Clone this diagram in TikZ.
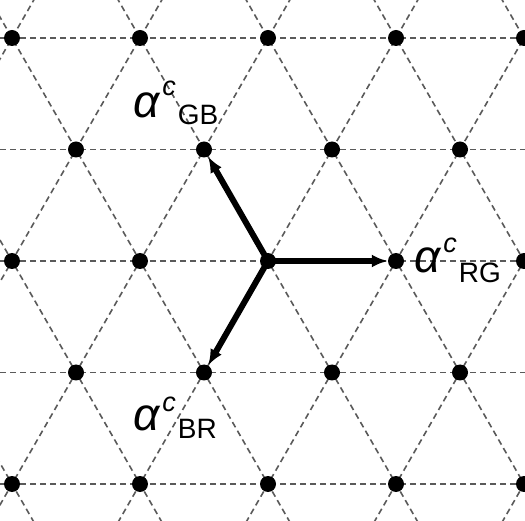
\documentclass[tikz,border=0pt]{standalone}
\usepackage{fontspec}
\setmainfont{Liberation Sans}
\usetikzlibrary{arrows.meta}
\definecolor{latgray}{RGB}{90,90,90}
\tikzset{
  latline/.style={draw=latgray, line width=1.6pt, dash pattern=on 6pt off 4pt},
  dot/.style={circle, fill=black, inner sep=0pt, minimum size=16pt},
  vec/.style={draw=black, line width=6pt, -{Latex[length=16pt,width=13pt]}},
  lab/.style={inner sep=0pt, anchor=base west}
}
\newcommand{\alab}[3]{{\fontsize{46}{46}\selectfont\itshape α}\kern3pt\raisebox{#1}{\fontsize{27}{27}\selectfont\itshape c}\kern2pt\raisebox{#2}{\fontsize{28}{28}\selectfont #3}}
\begin{document}
\begin{tikzpicture}[x=1pt,y=-1pt]
\useasboundingbox (0,0) rectangle (525,521);
\fill[white] (0,0) rectangle (525,521);
\begin{scope}
\clip (0,0) rectangle (525,521);
% horizontal lines
\foreach \r in {0,...,4} {
  \draw[latline] (-10,{38+111.5*\r}) -- (540,{38+111.5*\r});
}
% diagonal lines
\foreach \k in {-5,...,8} {
  \draw[latline] ({12+128*\k-64*2},{38-111.5*2}) -- ({12+128*\k+64*7},{38+111.5*7});
  \draw[latline] ({12+128*\k+64*2},{38-111.5*2}) -- ({12+128*\k-64*7},{38+111.5*7});
}
% dots
\foreach \r in {0,2,4} {
  \foreach \c in {0,...,4} {
    \node[dot] (d\r\c) at ({12+128*\c},{38+111.5*\r}) {};
  }
}
\foreach \r in {1,3} {
  \foreach \c in {0,...,3} {
    \node[dot] (d\r\c) at ({76+128*\c},{38+111.5*\r}) {};
  }
}
\end{scope}
% vectors
\draw[vec] (d22.center) -- (d23);
\draw[vec] (d22.center) -- (d11);
\draw[vec] (d22.center) -- (d31);
% labels
\node[lab] (lgb) at (133,118) {\alab{22pt}{-7pt}{GB}};
\node[lab] (lrg) at (414,273) {\alab{20pt}{-10pt}{RG}};
\node[lab] (lbr) at (133,430) {\alab{19pt}{-8pt}{BR}};
\end{tikzpicture}
\end{document}
